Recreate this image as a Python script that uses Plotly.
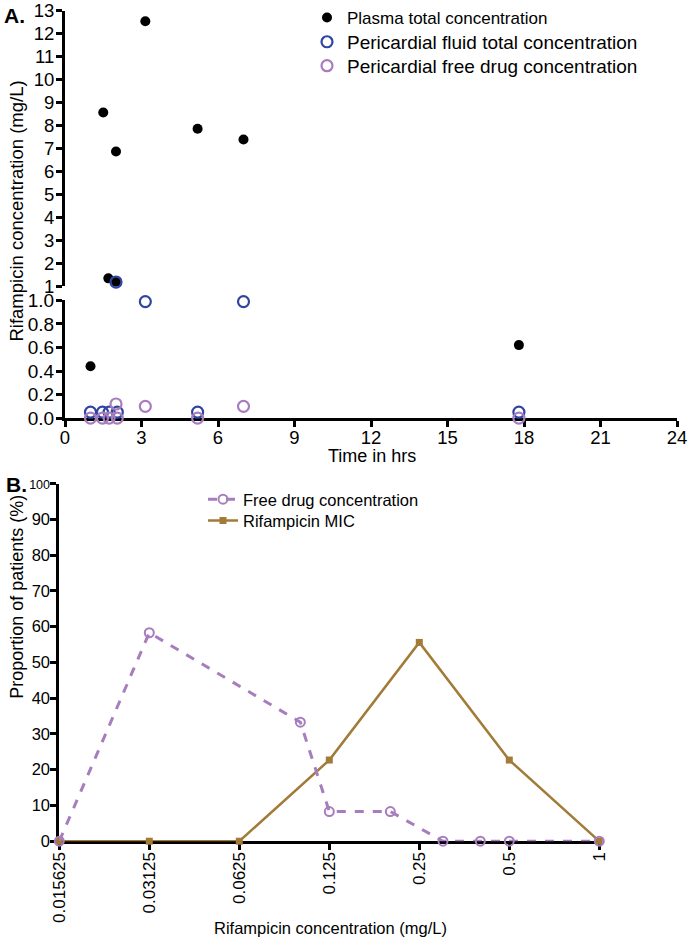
import plotly.graph_objects as go

W, H = 689, 941
FONT = "Liberation Sans, Arial, sans-serif"

# panel A data (time in hrs, concentration mg/L)
time_plasma = [1.0, 1.5, 1.7, 2.0, 2.0, 3.15, 5.2, 7.0, 17.8]
conc_plasma = [0.44, 8.58, 1.35, 6.88, 1.2, 12.55, 7.87, 7.4, 0.62]
time_peri_total = [1.0, 1.47, 1.73, 2.05, 2.0, 3.15, 5.2, 7.0, 17.8]
conc_peri_total = [0.05, 0.05, 0.05, 0.05, 1.19, 0.99, 0.05, 0.99, 0.05]
time_peri_free = [1.0, 1.47, 1.73, 2.05, 2.0, 3.15, 5.2, 7.0, 17.8]
conc_peri_free = [0.0, 0.0, 0.0, 0.0, 0.12, 0.1, 0.0, 0.1, 0.0]

# panel B data (rifampicin concentration mg/L, % patients)
free_conc = [0.015625, 0.03125, 0.1, 0.125, 0.2, 0.3, 0.4, 0.5, 1]
free_pct = [0, 58.3, 33.3, 8.3, 8.3, 0, 0, 0, 0]
mic_conc = [0.015625, 0.03125, 0.0625, 0.125, 0.25, 0.5, 1]
mic_pct = [0, 0, 0, 22.7, 55.6, 22.7, 0]
mic_ticks = [0.015625, 0.03125, 0.0625, 0.125, 0.25, 0.5, 1]
mic_ticktext = ["0.015625", "0.03125", "0.0625", "0.125", "0.25", "0.5", "1"]
pct_ticks = list(range(0, 101, 10))
pct_ticktext = [str(v) for v in pct_ticks[:-1]] + ["<span style='font-size:12.5px'>100</span>"]

BLACK = "#000000"
BLUE = "#2f45a0"
PURPLE = "#a77dbe"
BROWN = "#a27b38"


def px_x(p):
    return p / W


def px_y(p):
    return 1 - p / H


def split(xs, ys, upper):
    pts = [(x, y) for x, y in zip(xs, ys) if (y > 1.05) == upper]
    return [p[0] for p in pts], [p[1] for p in pts]


fig = go.Figure()

series_a = [
    ("Plasma total concentration", time_plasma, conc_plasma,
     dict(symbol="circle", size=10, color=BLACK), "legend"),
    ("Pericardial fluid total concentration", time_peri_total, conc_peri_total,
     dict(symbol="circle-open", size=11, color=BLUE, line=dict(width=2.2, color=BLUE)), "legend3"),
    ("Pericardial free drug concentration", time_peri_free, conc_peri_free,
     dict(symbol="circle-open", size=11, color=PURPLE, line=dict(width=2.2, color=PURPLE)), "legend4"),
]
for i, (name, xs, ys, marker, leg) in enumerate(series_a):
    lx, ly = split(xs, ys, False)
    ux, uy = split(xs, ys, True)
    fig.add_trace(go.Scatter(x=lx, y=ly, mode="markers", name=name, marker=marker, xaxis="x", yaxis="y",
                             legend=leg, legendgroup=f"a{i}", cliponaxis=False))
    fig.add_trace(go.Scatter(x=ux, y=uy, mode="markers", name=name, marker=marker, xaxis="x", yaxis="y2",
                             showlegend=False, legendgroup=f"a{i}", cliponaxis=False))

fig.add_trace(go.Scatter(
    x=mic_conc, y=mic_pct, mode="lines+markers", name="Rifampicin MIC",
    line=dict(color=BROWN, width=2.5), marker=dict(symbol="square", size=7, color=BROWN),
    xaxis="x2", yaxis="y3", legend="legend5", cliponaxis=False,
))
fig.add_trace(go.Scatter(
    x=free_conc, y=free_pct, mode="lines+markers", name="Free drug concentration",
    line=dict(color=PURPLE, width=3, dash="dash"),
    marker=dict(symbol="circle-open", size=9, color=PURPLE, line=dict(width=2, color=PURPLE)),
    xaxis="x2", yaxis="y3", legend="legend2", cliponaxis=False,
))

axis_common = dict(
    showline=True, linecolor="black", linewidth=3, ticks="outside", tickwidth=3, ticklen=6,
    tickcolor="black", showgrid=False, zeroline=False, layer="below traces", automargin=False,
)


def one_legend(x, y, size):
    return dict(x=px_x(x), y=px_y(y), xanchor="left", yanchor="middle", font=dict(size=size),
                bgcolor="rgba(0,0,0,0)", itemwidth=30)


fig.update_layout(
    width=W, height=H,
    margin=dict(l=0, r=0, t=0, b=0),
    paper_bgcolor="white", plot_bgcolor="white",
    font=dict(family=FONT, color="black"),
    xaxis=dict(domain=[px_x(65), px_x(677)], range=[0, 24], tickvals=list(range(0, 25, 3)),
               anchor="y", tickfont=dict(size=18.5), ticklabelstandoff=-5, **axis_common),
    yaxis=dict(domain=[px_y(417), px_y(299)], range=[0, 1.0], tickvals=[0, 0.2, 0.4, 0.6, 0.8, 1.0],
               tickformat=".1f", anchor="x", tickfont=dict(size=19), ticklabelstandoff=-2, **axis_common),
    yaxis2=dict(domain=[px_y(285), px_y(9)], range=[1, 13], tickvals=list(range(1, 14)),
                anchor="x", tickfont=dict(size=18.5), ticklabelstandoff=-2, **axis_common),
    xaxis2=dict(domain=[px_x(59.3), px_x(599.3)], type="log", range=[-1.80618, 0],
                tickvals=mic_ticks, ticktext=mic_ticktext, tickangle=-90, anchor="y3",
                tickfont=dict(size=17), ticklabelstandoff=-5, **axis_common),
    yaxis3=dict(domain=[px_y(841), px_y(482.7)], range=[0, 100], tickvals=pct_ticks, ticktext=pct_ticktext,
                anchor="x2", tickfont=dict(size=16.5), ticklabelstandoff=-3, **axis_common),
    legend=one_legend(307, 16, 17),
    legend3=one_legend(307, 40, 19),
    legend4=one_legend(307, 64, 19),
    legend2=one_legend(203, 498.5, 16.5),
    legend5=one_legend(203, 520, 16.5),
    showlegend=True,
)

annotations = [
    dict(text="<b>A.</b>", x=px_x(2), y=px_y(14), xanchor="left", yanchor="middle", font=dict(size=21)),
    dict(text="<b>B.</b>", x=px_x(4), y=px_y(484), xanchor="left", yanchor="middle", font=dict(size=21)),
    dict(text="Rifampicin concentration (mg/L)", x=px_x(17), y=px_y(210), textangle=-90,
         xanchor="center", yanchor="middle", font=dict(size=18.5)),
    dict(text="Time in hrs", x=px_x(372), y=px_y(455), xanchor="center", yanchor="middle", font=dict(size=18)),
    dict(text="Proportion of patients (%)", x=px_x(17), y=px_y(596), textangle=-90,
         xanchor="center", yanchor="middle", font=dict(size=18)),
    dict(text="Rifampicin concentration (mg/L)", x=px_x(330), y=px_y(928), xanchor="center",
         yanchor="middle", font=dict(size=16.5)),
]
for a in annotations:
    a.update(xref="paper", yref="paper", showarrow=False)
fig.update_layout(annotations=annotations)

# drop the browser's default 8px body margin so the figure sits at the page corner
fig.write_html("out.html", config={"displayModeBar": False},
               post_script="document.body.style.margin = '0';")
